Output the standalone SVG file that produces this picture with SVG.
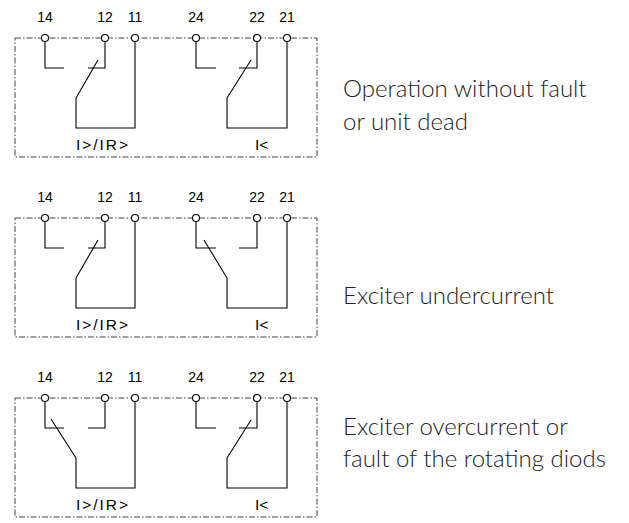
<svg xmlns="http://www.w3.org/2000/svg" width="629" height="523" viewBox="0 0 629 523">
<style>
.frame{fill:none;stroke:#444;stroke-width:1;stroke-dasharray:6 2 1.5 2}
.w{fill:none;stroke:#000;stroke-width:1.1}
.t{fill:#fff;stroke:#000;stroke-width:1.1}
.num{font-family:"Liberation Sans",Arial,sans-serif;font-size:14px;fill:#000;text-anchor:middle}
.lbl{font-family:"Liberation Sans",Arial,sans-serif;font-size:15.5px;fill:#000}
.desc{font-family:Lato,"DejaVu Sans",sans-serif;font-weight:300;font-size:24px;fill:#222}
</style>
<defs>
<g id="base">
<rect class="frame" x="15" y="38" width="302" height="119"/>
<text class="num" x="45" y="22">14</text>
<text class="num" x="105" y="22">12</text>
<text class="num" x="135" y="22">11</text>
<text class="num" x="196" y="22">24</text>
<text class="num" x="257" y="22">22</text>
<text class="num" x="287" y="22">21</text>
<polyline class="w" points="45,41.5 45,68 64,68"/>
<polyline class="w" points="105,41.5 105,68 88,68"/>
<polyline class="w" points="76,98 76,128 135,128 135,41.5"/>
<polyline class="w" points="196,41.5 196,68 216,68"/>
<polyline class="w" points="257,41.5 257,68 239,68"/>
<polyline class="w" points="227,98 227,128 287,128 287,41.5"/>
<circle class="t" cx="45" cy="38" r="3.5"/>
<circle class="t" cx="105" cy="38" r="3.5"/>
<circle class="t" cx="135" cy="38" r="3.5"/>
<circle class="t" cx="196" cy="38" r="3.5"/>
<circle class="t" cx="257" cy="38" r="3.5"/>
<circle class="t" cx="287" cy="38" r="3.5"/>
<text class="lbl" x="76" y="150" textLength="52" lengthAdjust="spacing">I&gt;/IR&gt;</text>
<text class="lbl" x="255" y="150">I&lt;</text>
</g>
</defs>
<g id="state1">
<use href="#base"/>
<g id="contacts1">
<line class="w" x1="76" y1="98" x2="98" y2="60"/>
<line class="w" x1="227" y1="98" x2="251" y2="60"/>
</g>
<text class="desc" x="343" y="97">Operation without fault</text>
<text class="desc" x="343" y="130">or unit dead</text>
</g>
<g id="state2" transform="translate(0,180)">
<use href="#base"/>
<g id="contacts2">
<line class="w" x1="76" y1="98" x2="98" y2="60"/>
<line class="w" x1="227" y1="98" x2="204" y2="60"/>
</g>
<text class="desc" x="343" y="124">Exciter undercurrent</text>
</g>
<g id="state3" transform="translate(0,360)">
<use href="#base"/>
<g id="contacts3">
<line class="w" x1="76" y1="98" x2="51" y2="59"/>
<line class="w" x1="227" y1="98" x2="251" y2="60"/>
</g>
<text class="desc" x="343" y="75">Exciter overcurrent or</text>
<text class="desc" x="343" y="107">fault of the rotating diods</text>
</g>
</svg>
